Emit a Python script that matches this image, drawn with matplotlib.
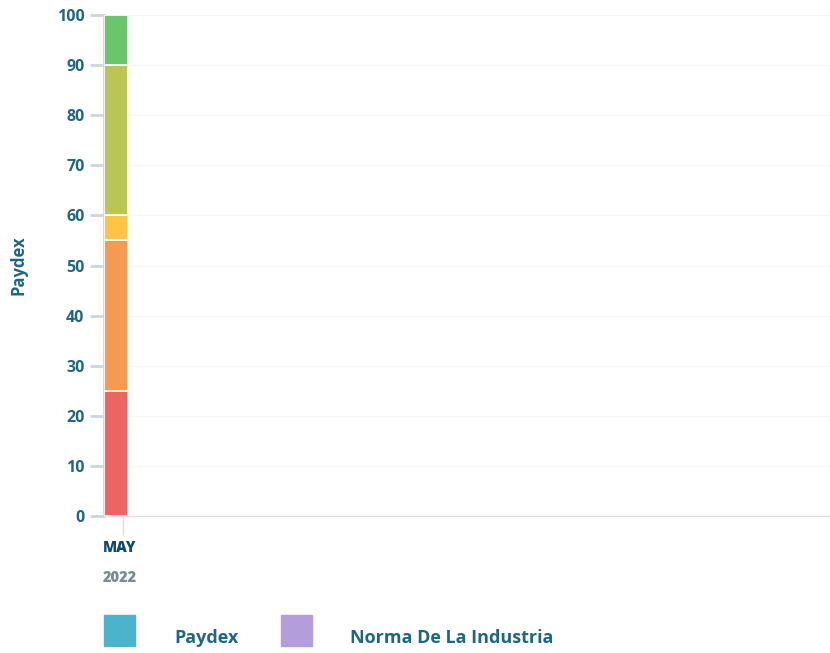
import matplotlib
matplotlib.use("Agg")
import matplotlib.pyplot as plt
from matplotlib.patches import Rectangle

categories = ["MAY\n2022"]
month_labels = ["MAY"]
year_labels = ["2022"]
segment_values = [25, 30, 5, 30, 10]
segment_colors = ["#EC6562", "#F59A52", "#FFC444", "#B9C555", "#6BC56A"]
yticks = [0, 10, 20, 30, 40, 50, 60, 70, 80, 90, 100]
legend_labels = ["Paydex", "Norma De La Industria"]
legend_colors = ["#4BB3CC", "#B39DDB"]

plt.rcParams['font.family'] = ['Open Sans', 'DejaVu Sans']
teal = "#1F6680"

fig = plt.figure(figsize=(8.3, 6.53), dpi=100)
ax = fig.add_axes([104/830, 1-516/653, 726/830, (516-15)/653])

bottom = 0
for v, c in zip(segment_values, segment_colors):
    ax.bar(0, v, width=1, bottom=bottom, align='edge', color=c,
           edgecolor='white', linewidth=1.2, zorder=3)
    bottom += v

ax.set_xlim(0, 30.25)
ax.set_ylim(0, 100)
ax.set_yticks(yticks)
ax.set_yticklabels([str(t) for t in yticks], fontsize=11.5, fontweight='bold', color=teal)
ax.tick_params(axis='y', length=10, width=2, color="#CDD6DD", pad=4)
ax.set_xticks([0.8])
ax.set_xticklabels([""])
ax.tick_params(axis='x', length=14, width=1, color="#E0E0E0")

ax.grid(axis='y', color="#F5F5F5", linewidth=1, zorder=0)
for s in ['top', 'right']:
    ax.spines[s].set_visible(False)
ax.spines['left'].set_color("#CDD6DD")
ax.spines['left'].set_linewidth(2)
ax.spines['bottom'].set_color("#E0E0E0")
ax.spines['bottom'].set_linewidth(1)

ax.set_ylabel("Paydex", fontsize=12, fontweight='bold', color=teal)
ax.yaxis.set_label_coords(-(104 - 27)/726, 0.5)

fig.text(120/830, 1-548/653, month_labels[0], ha='center', va='center',
         fontsize=10.5, fontweight='heavy', color="#0F4C6B")
fig.text(120/830, 1-578/653, year_labels[0], ha='center', va='center',
         fontsize=10.5, fontweight='heavy', color="#7A8C94")

# legend
leg_x = [104, 281]
txt_x = [174, 350]
for lx, tx, lab, col in zip(leg_x, txt_x, legend_labels, legend_colors):
    fig.patches.append(Rectangle((lx/830, 1-646/653), 31/830, 31/653,
                                 transform=fig.transFigure, color=col))
    fig.text(tx/830, 1-638/653, lab, ha='left', va='center', fontsize=13,
             fontweight='bold', color=teal)

fig.savefig("out.png", dpi=100)
